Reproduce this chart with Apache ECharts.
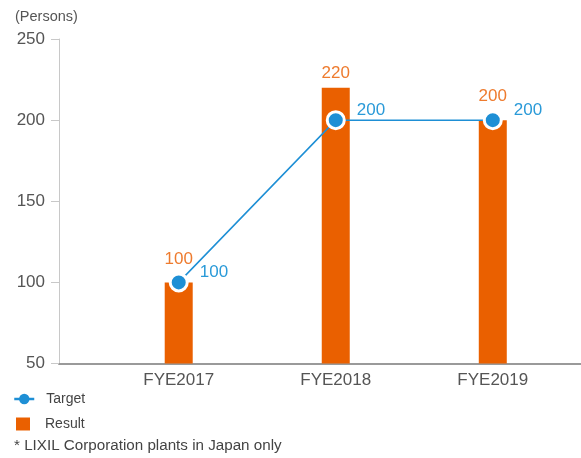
<!DOCTYPE html>
<html>
<head>
<meta charset="utf-8">
<script src="https://cdn.jsdelivr.net/npm/echarts@6/dist/echarts.min.js"></script>
<style>
  html, body { margin: 0; padding: 0; background: #fff; }
  #chart { width: 581px; height: 458px; }
</style>
</head>
<body>
<div id="chart"></div>
<script>
// Fiscal years on the category axis
const categories = ['FYE2017', 'FYE2018', 'FYE2019'];
// Persons: planned target and actual result
const targetValues = [100, 200, 200];
const resultValues = [100, 220, 200];
// Y axis range and step
const yMin = 50;
const yMax = 250;
const yStep = 50;

const FONT = '"Liberation Sans", Arial, sans-serif';
const ORANGE = '#EA6000';
const ORANGE_TEXT = '#EE7B2E';
const BLUE = '#1E8FD5';
const BLUE_TEXT = '#2A9AD8';
const GREY_TEXT = '#555555';

// Lift a bar's value label when the target marker sits on top of it
const resultData = resultValues.map((v, i) => ({
  value: v,
  label: { distance: v === targetValues[i] ? 15 : 6 }
}));

const chart = echarts.init(document.getElementById('chart'), null, { renderer: 'canvas' });

chart.setOption({
  animation: false,
  textStyle: { fontFamily: FONT },
  title: [
    {
      text: '(Persons)', left: 15, top: 9, padding: 0,
      textStyle: { fontSize: 14.5, fontWeight: 'normal', color: GREY_TEXT, fontFamily: FONT }
    },
    {
      text: '* LIXIL Corporation plants in Japan only', left: 14, top: 438, padding: 0,
      textStyle: { fontSize: 15.2, fontWeight: 'normal', color: '#444', fontFamily: FONT }
    }
  ],
  legend: [
    {
      data: ['Target'], left: 13, top: 392, padding: 0,
      itemWidth: 20, itemHeight: 13,
      lineStyle: { width: 2.5 },
      itemStyle: { borderWidth: 0 },
      textStyle: { fontSize: 14, color: '#444', padding: [0, 0, 0, 7], fontFamily: FONT }
    },
    {
      data: ['Result'], left: 16, top: 417, padding: 0, icon: 'rect',
      itemWidth: 14, itemHeight: 13,
      textStyle: { fontSize: 14, color: '#444', padding: [0, 0, 0, 10], fontFamily: FONT }
    }
  ],
  grid: [
    // frame that carries the y axis and the long baseline
    { left: 59, right: 0, top: 39, bottom: 94.5 },
    // plotting area for the three fiscal years
    { left: 100.2, right: 9.7, top: 39, bottom: 94.5 }
  ],
  xAxis: [
    {
      gridIndex: 0, type: 'value', min: 0, max: 1,
      axisLine: { show: true, lineStyle: { color: '#9a9a9a', width: 2 } },
      axisTick: { show: false }, axisLabel: { show: false }, splitLine: { show: false }
    },
    {
      gridIndex: 1, type: 'category', data: categories,
      axisLine: { show: false }, axisTick: { show: false },
      axisLabel: { fontSize: 17, color: GREY_TEXT, margin: 8, fontFamily: FONT }
    }
  ],
  yAxis: [
    {
      gridIndex: 0, type: 'value', min: yMin, max: yMax, interval: yStep,
      axisLine: { show: true, lineStyle: { color: '#c8c8c8', width: 1 } },
      axisTick: { show: true, length: 8, lineStyle: { color: '#c8c8c8' } },
      axisLabel: { fontSize: 17, color: GREY_TEXT, margin: 14, fontFamily: FONT },
      splitLine: { show: false }
    },
    {
      gridIndex: 1, type: 'value', min: yMin, max: yMax, interval: yStep, show: false
    }
  ],
  series: [
    {
      name: 'Result', type: 'bar', xAxisIndex: 1, yAxisIndex: 1,
      data: resultData, barWidth: 28,
      itemStyle: { color: ORANGE },
      label: { show: true, position: 'top', fontSize: 17, color: ORANGE_TEXT, fontFamily: FONT },
      z: 2
    },
    {
      name: 'Target', type: 'line', xAxisIndex: 1, yAxisIndex: 1,
      data: targetValues,
      symbol: 'circle', symbolSize: 17,
      lineStyle: { color: BLUE, width: 1.5 },
      itemStyle: { color: BLUE, borderColor: '#fff', borderWidth: 3 },
      label: {
        show: true, position: 'right', distance: 11, offset: [0, -10],
        fontSize: 17, color: BLUE_TEXT, fontFamily: FONT
      },
      z: 3
    }
  ]
});
</script>
</body>
</html>
